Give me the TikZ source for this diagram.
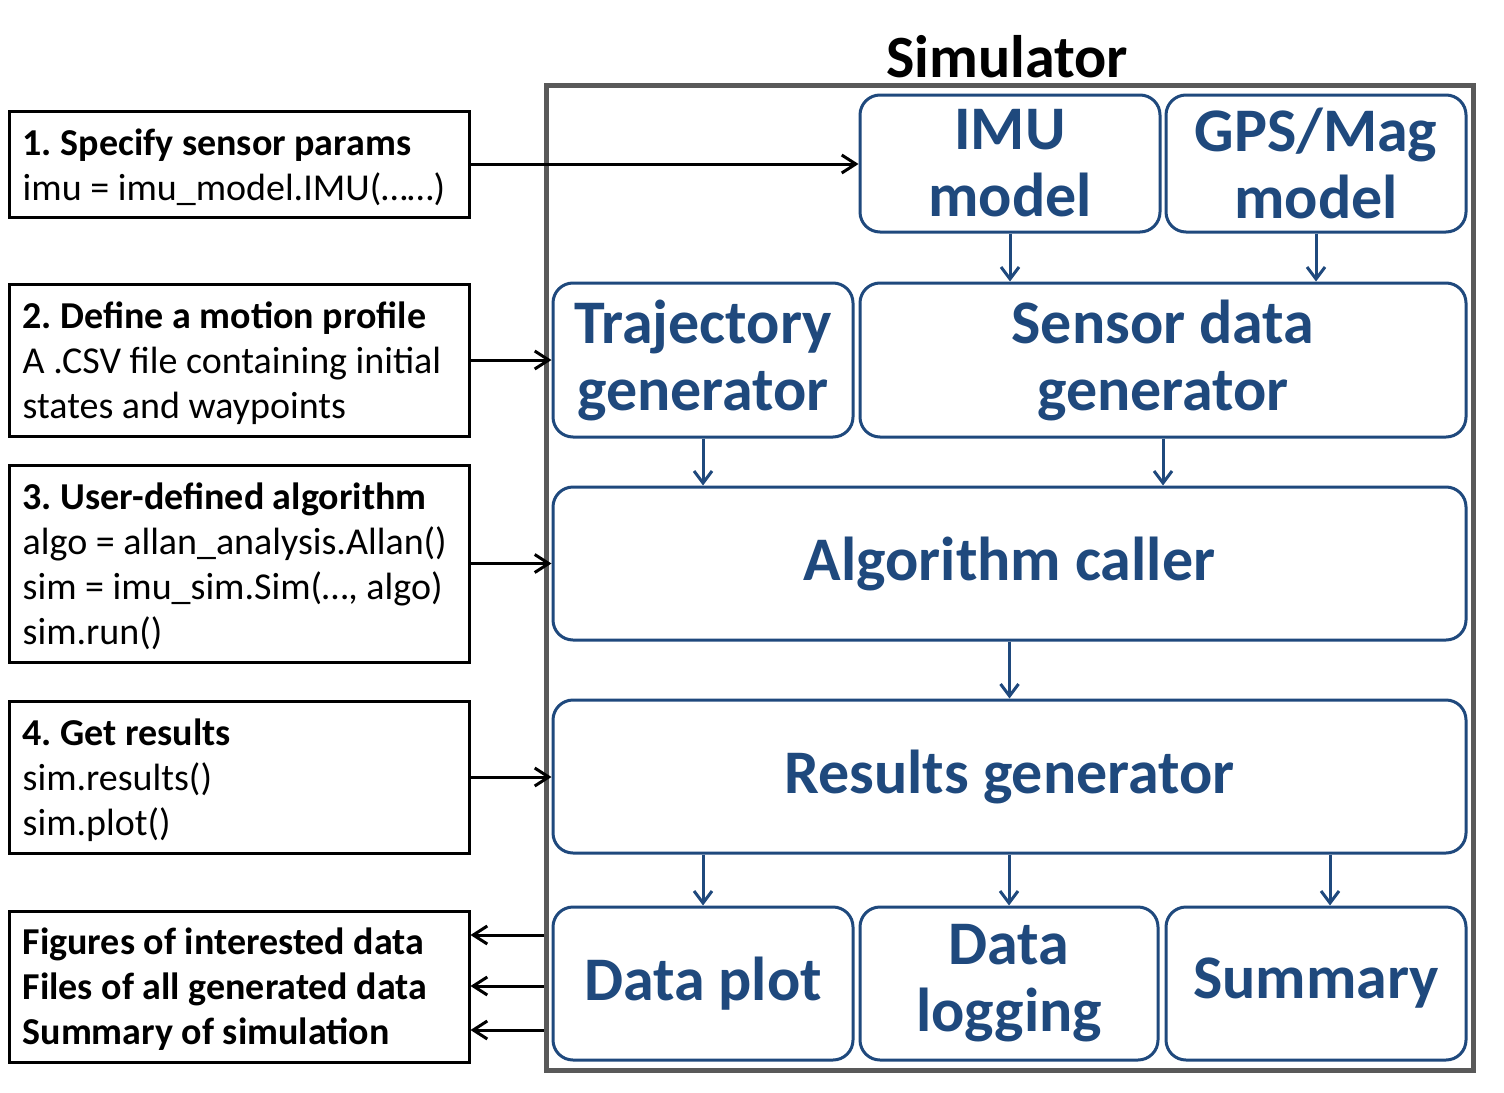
\documentclass[tikz,border=0pt]{standalone}
\usepackage{fontspec}
\setmainfont{Carlito}
\usetikzlibrary{arrows.meta}
\definecolor{dblue}{HTML}{1F497D}
\definecolor{fgray}{HTML}{595959}
\frenchspacing
\begin{document}
\begin{tikzpicture}[x=1pt,y=-1pt,
  bluebox/.style={draw=dblue, line width=3pt, rounded corners=20pt, text=dblue,
    font=\bfseries\fontsize{62}{67}\selectfont, align=center, inner sep=0pt},
  leftbox/.style={draw=black, line width=3pt, minimum width=460pt, inner sep=0pt},
  lefttext/.style={anchor=west, align=left, inner sep=0pt,
    font=\fontsize{38}{45}\selectfont},
  barrow/.style={draw=dblue, line width=3pt, -{Straight Barb[length=12pt,width=18pt]}},
  karrow/.style={draw=black, line width=3pt, -{Straight Barb[length=14pt,width=18pt]}}
]
\useasboundingbox (0,0) rectangle (1504,1092);
\fill[white] (0,0) rectangle (1504,1092);

% simulator frame
\node[draw=fgray, line width=5pt, minimum width=927pt, minimum height=985pt, inner sep=0pt] (frame) at (1009.5,577.5) {};
\node[anchor=base, inner sep=0pt, font=\bfseries\fontsize{60}{62}\selectfont] (simlabel) at (1007,77) {Simulator};

% blue boxes
\node[bluebox, minimum width=300pt, minimum height=137pt] (imu) at (1010,163.5) {IMU\\model};
\node[bluebox, minimum width=300pt, minimum height=137pt] (gps) at (1316,163.5) {GPS/Mag\\model};
\node[bluebox, minimum width=300pt, minimum height=154pt] (traj) at (703,360) {Trajectory\\generator};
\node[bluebox, minimum width=606pt, minimum height=154pt] (sensor) at (1163,360) {Sensor data\\generator};
\node[bluebox, minimum width=913pt, minimum height=153pt] (algo) at (1009.5,563.5) {Algorithm caller};
\node[bluebox, minimum width=913pt, minimum height=153pt] (results) at (1009.5,776.5) {Results generator};
\node[bluebox, minimum width=300pt, minimum height=153pt] (plot) at (703,983.5) {Data plot};
\node[bluebox, minimum width=298pt, minimum height=153pt] (logging) at (1009,983.5) {Data\\logging};
\node[bluebox, minimum width=300pt, minimum height=153pt] (summary) at (1316,983.5) {Summary};

% left boxes
\node[leftbox, minimum height=106pt] (b1) at (239,164) {};
\node[lefttext] (t1) at ([xshift=15pt,yshift=-3pt]b1.west) {\textbf{1. Specify sensor params}\\imu = imu\_model.IMU(……)};
\node[leftbox, minimum height=152pt] (b2) at (239,360) {};
\node[lefttext] (t2) at ([xshift=15pt,yshift=-3pt]b2.west) {\textbf{2. Define a motion profile}\\A .CSV file containing initial\\states and waypoints};
\node[leftbox, minimum height=197pt] (b3) at (239,563.5) {};
\node[lefttext] (t3) at ([xshift=15pt,yshift=-3pt]b3.west) {\textbf{3. User-defined algorithm}\\algo = allan\_analysis.Allan()\\sim = imu\_sim.Sim(…, algo)\\sim.run()};
\node[leftbox, minimum height=152pt] (b4) at (239,777) {};
\node[lefttext] (t4) at ([xshift=15pt,yshift=-3pt]b4.west) {\textbf{4. Get results}\\sim.results()\\sim.plot()};
\node[leftbox, minimum height=151pt] (b5) at (239,986.5) {};
\node[lefttext, font=\bfseries\fontsize{38}{45}\selectfont] (t5) at ([xshift=15pt,yshift=-3pt]b5.west) {Figures of interested data\\Files of all generated data\\Summary of simulation};

% input arrows
\draw[karrow] (b1.east) -- (imu.west |- b1.east);
\draw[karrow] (b2.east) -- (traj.west |- b2.east);
\draw[karrow] (b3.east) -- (algo.west |- b3.east);
\draw[karrow] (b4.east) -- (algo.west |- b4.east);

% output arrows
\draw[karrow] (frame.west |- 0,935) -- (b5.east |- 0,935);
\draw[karrow] (frame.west |- 0,986) -- (b5.east |- 0,986);
\draw[karrow] (frame.west |- 0,1030) -- (b5.east |- 0,1030);

% internal arrows
\draw[barrow] (imu.south) -- (imu.south |- sensor.north);
\draw[barrow] (gps.south) -- (gps.south |- sensor.north);
\draw[barrow] (traj.south) -- (traj.south |- algo.north);
\draw[barrow] (sensor.south) -- (sensor.south |- algo.north);
\draw[barrow] (algo.south) -- (algo.south |- results.north);
\draw[barrow] (results.south -| plot.north) -- (plot.north);
\draw[barrow] (results.south -| logging.north) -- (logging.north);
\draw[barrow] ([xshift=14pt]summary.north |- results.south) -- ([xshift=14pt]summary.north);
\end{tikzpicture}
\end{document}
